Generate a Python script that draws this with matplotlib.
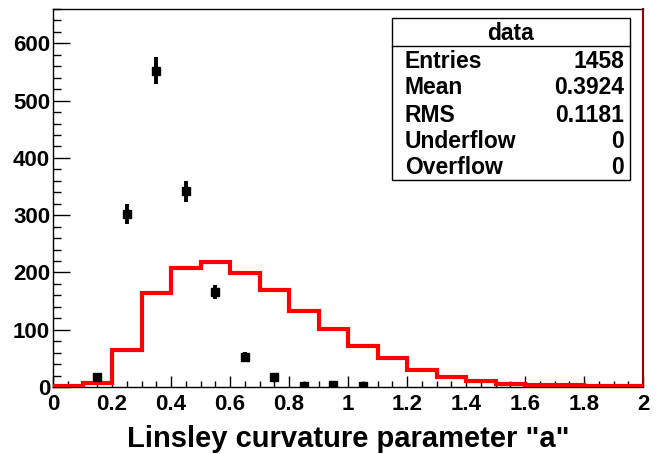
import matplotlib

matplotlib.use("Agg")
import matplotlib.pyplot as plt
import numpy as np
from matplotlib.ticker import MultipleLocator

# simulated distribution (red histogram), bins of 0.1 on [0, 2]
bin_edges = np.round(np.arange(0.0, 2.01, 0.1), 2)
sim_counts = [2, 7, 65, 165, 207, 219, 199, 170, 132, 101,
              72, 50, 30, 17, 10, 6, 4, 3, 2, 1]

# measured data points (bin centres) with Poisson errors
data_x = [0.15, 0.25, 0.35, 0.45, 0.55, 0.65, 0.75, 0.85, 0.95, 1.05]
data_y = [18, 302, 552, 342, 166, 53, 18, 2, 3, 2]

stat_names = ["Entries", "Mean", "RMS", "Underflow", "Overflow"]
stat_values = ["1458", "0.3924", "0.1181", "0", "0"]

W, H = 659, 454
FONT = ["Liberation Sans", "DejaVu Sans"]
plt.rcParams["font.family"] = FONT
plt.rcParams["font.weight"] = "bold"


def fx(px):
    return px / W


def fy(py):
    return 1 - py / H


fig = plt.figure(figsize=(W / 100, H / 100), dpi=100)
ax = fig.add_axes([fx(53), fy(387), fx(643) - fx(53), fy(9) - fy(387)])

ax.stairs(sim_counts, bin_edges, baseline=0, color="red", lw=3, zorder=3)
ax.errorbar(data_x, data_y, yerr=np.sqrt(data_y), fmt="s", color="black",
            ms=5.5, elinewidth=2.8, capsize=0, zorder=4)

ax.set_xlim(0, 2)
ax.set_ylim(0, 660)
ax.xaxis.set_major_locator(MultipleLocator(0.2))
ax.xaxis.set_minor_locator(MultipleLocator(0.05))
ax.yaxis.set_major_locator(MultipleLocator(100))
ax.yaxis.set_minor_locator(MultipleLocator(20))
ax.xaxis.set_major_formatter(plt.FuncFormatter(lambda v, p: f"{v:g}"))

ax.tick_params(axis="x", which="major", direction="in", length=8, width=1,
               labelsize=16, pad=5)
ax.tick_params(axis="x", which="minor", direction="in", length=4, width=1)
ax.tick_params(axis="y", which="major", direction="in", length=12, width=1,
               labelsize=16, pad=2)
ax.tick_params(axis="y", which="minor", direction="in", length=6, width=1)

for s in ax.spines.values():
    s.set_linewidth(1)
ax.spines["right"].set_color("#9b0000")
ax.spines["right"].set_linewidth(1.5)

ax.set_xlabel('Linsley curvature parameter "a"', fontsize=21,
              fontweight="bold", labelpad=7)

# statistics box
box_l, box_r, box_t, box_b = 392, 630, 18, 180
fig.patches.append(plt.Rectangle((fx(box_l), fy(box_b)), fx(box_r) - fx(box_l),
                                 fy(box_t) - fy(box_b), transform=fig.transFigure,
                                 facecolor="white", edgecolor="black", lw=1, zorder=10))
fig.add_artist(plt.Line2D([fx(box_l), fx(box_r)], [fy(46), fy(46)],
                          transform=fig.transFigure, color="black", lw=1, zorder=11))
fig.text(fx((box_l + box_r) / 2), fy(33), "data", ha="center", va="center",
         fontsize=16.5, fontweight="bold", zorder=12)
row_y = [61, 88, 115, 142, 168]
for name, val, yy in zip(stat_names, stat_values, row_y):
    fig.text(fx(405), fy(yy), name, ha="left", va="center",
             fontsize=16.5, fontweight="bold", zorder=12)
    fig.text(fx(624), fy(yy), val, ha="right", va="center",
             fontsize=16.5, fontweight="bold", zorder=12)

fig.savefig("out.png", dpi=100)
